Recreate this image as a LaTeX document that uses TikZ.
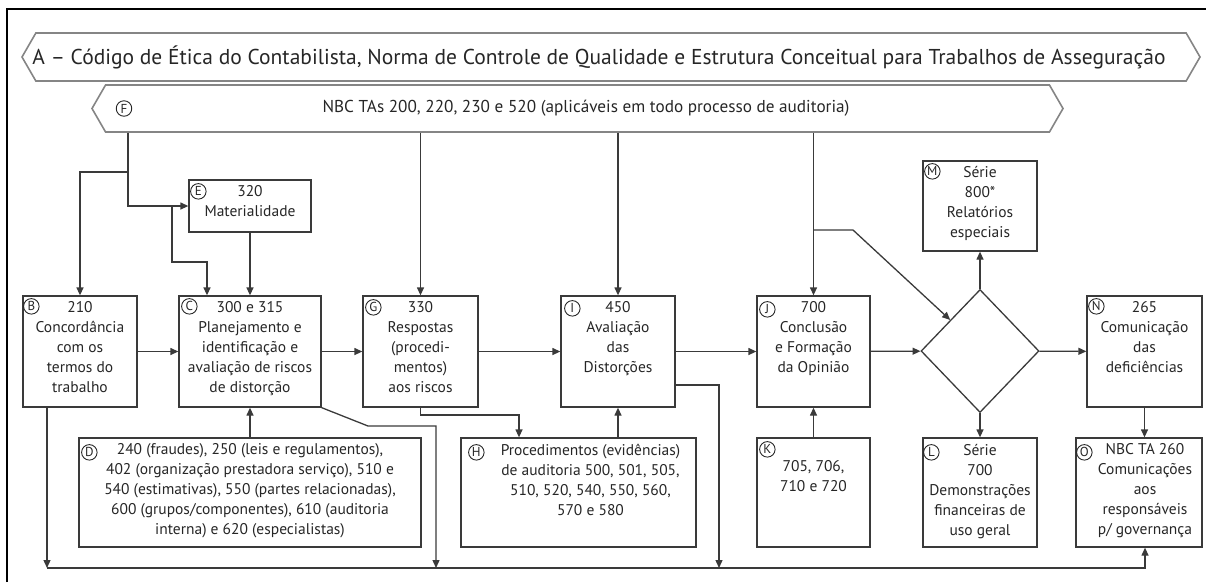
\documentclass[tikz,border=0pt]{standalone}
\usepackage{fontspec}
\setmainfont{PT Sans}
\usetikzlibrary{arrows.meta,shapes.geometric,shapes.symbols,calc,positioning}

\definecolor{lineclr}{HTML}{3A3A3A}
\definecolor{txtclr}{HTML}{262626}
\definecolor{bannerclr}{HTML}{858585}

\begin{document}
\begin{tikzpicture}[x=1pt, y=-1pt,
    box/.style={draw=lineclr, line width=1.3pt, inner sep=0pt},
    boxtext/.style={anchor=north, align=center, inner sep=0pt, text=txtclr,
      font=\fontsize{15.5}{20}\selectfont, execute at begin node=\strut},
    tag/.style={circle, draw=txtclr, line width=0.9pt, inner sep=0pt,
      minimum size=15.5pt, font=\fontsize{13}{13}\selectfont, text=txtclr},
    banner/.style={signal, signal to=west and east, signal pointer angle=120,
      draw=bannerclr, line width=1.6pt, inner sep=0pt},
    wire/.style={draw=lineclr, line width=1.3pt},
    arr/.style={wire, -{Triangle[length=8pt,width=7pt]}}]

  \useasboundingbox (0,0) rectangle (1206,582);

  % page frame
  \draw[line width=1.4pt] (7,582) -- (7,9) -- (1206,9);

  % top banners
  \node[banner, minimum width=1178, minimum height=48] (A) at (611,57) {};
  \node[text=txtclr, font=\fontsize{21.5}{24}\selectfont] (Atxt) at (599,57)
    {A -- Código de Ética do Contabilista, Norma de Controle de Qualidade e Estrutura Conceitual para Trabalhos de Asseguração};
  \node[banner, minimum width=971, minimum height=47] (F) at (577.5,108.5) {};
  \node[text=txtclr, font=\fontsize{17.2}{20}\selectfont] (Ftxt) at (586,108.5)
    {NBC TAs 200, 220, 230 e 520 (aplicáveis em todo processo de auditoria)};
  \node[tag] (F-tag) at (124,108.5) {F};

  % main row of boxes
  \node[box, minimum width=114, minimum height=111] (B) at (80,351.5) {};
  \node[box, minimum width=142, minimum height=111] (C) at (250,351.5) {};
  \node[box, minimum width=115, minimum height=111] (G) at (420.5,351.5) {};
  \node[box, minimum width=114, minimum height=111] (I) at (618,351.5) {};
  \node[box, minimum width=113, minimum height=111] (J) at (813.5,351.5) {};
  \node[draw=lineclr, line width=1.3pt, diamond, inner sep=0pt,
    minimum width=118, minimum height=123] (dia) at (980,351) {};
  \node[box, minimum width=115, minimum height=111] (N) at (1144.5,351.5) {};

  % upper boxes
  \node[box, minimum width=122, minimum height=52] (E) at (250,206) {};
  \node[box, minimum width=114, minimum height=90] (M) at (980,206) {};

  % lower boxes
  \node[box, minimum width=342, minimum height=109] (D) at (250,492.5) {};
  \node[box, minimum width=235, minimum height=109] (H) at (578.5,492.5) {};
  \node[box, minimum width=113, minimum height=109] (K) at (813.5,492.5) {};
  \node[box, minimum width=114, minimum height=109] (L) at (980,492.5) {};
  \node[box, minimum width=126, minimum height=109] (O) at (1139,492.5) {};

  % texts of the boxes
  \node[boxtext] (B-txt) at ([yshift=-6.4pt]B.north)
    {210\\Concordância\\com os\\termos do\\trabalho};
  \node[boxtext] (C-txt) at ([yshift=-6.4pt]C.north)
    {300 e 315\\Planejamento e\\identificação e\\avaliação de riscos\\de distorção};
  \node[boxtext] (G-txt) at ([yshift=-6.4pt]G.north)
    {330\\Respostas\\(procedi-\\mentos)\\aos riscos};
  \node[boxtext] (I-txt) at ([yshift=-6.4pt]I.north)
    {450\\Avaliação\\das\\Distorções};
  \node[boxtext] (J-txt) at ([yshift=-6.4pt]J.north)
    {700\\Conclusão\\e Formação\\da Opinião};
  \node[boxtext] (N-txt) at ([yshift=-6.4pt]N.north)
    {265\\Comunicação\\das\\deficiências};
  \node[boxtext] (E-txt) at ([yshift=-6.4pt]E.north)
    {320\\Materialidade};
  \node[boxtext] (M-txt) at ([yshift=-5.4pt]M.north)
    {Série\\800*\\Relatórios\\especiais};
  \node[boxtext] (D-txt) at ([yshift=-6.4pt]D.north)
    {240 (fraudes), 250 (leis e regulamentos),\\402 (organização prestadora serviço), 510 e\\540 (estimativas), 550 (partes relacionadas),\\600 (grupos/componentes), 610 (auditoria\\interna) e 620 (especialistas)};
  \node[boxtext] (H-txt) at ([xshift=12pt, yshift=-6.4pt]H.north)
    {Procedimentos (evidências)\\de auditoria 500, 501, 505,\\510, 520, 540, 550, 560,\\570 e 580};
  \node[boxtext] (K-txt) at ([yshift=-23.4pt]K.north)
    {705, 706,\\710 e 720};
  \node[boxtext] (L-txt) at ([yshift=-6.4pt]L.north)
    {Série\\700\\Demonstrações\\financeiras de\\uso geral};
  \node[boxtext] (O-txt) at ([xshift=6pt, yshift=-6.4pt]O.north)
    {NBC TA 260\\Comunicações\\aos\\responsáveis\\p/ governança};

  % circled letters
  \foreach \b/\dx/\dy in {B/9/11, C/11/11, G/11/12, I/12/13, J/11/14, N/10/11,
      E/10/12, M/10/11, D/11/15, H/16/15, K/11/12, L/9/15, O/9/15}
    \node[tag] (\b-tag) at ($(\b.north west)+(\dx,\dy)$) {\b};

  % turning points
  \coordinate (k1) at (128,172);
  \coordinate (k2) at (172,262);
  \coordinate (k3) at (853,230);
  \coordinate (k4) at (519,415);
  \coordinate (k5) at (368,426);
  \coordinate (k6) at (436,426);
  \coordinate (k7) at (719,385);
  \coordinate (bus1) at (47,568);
  \coordinate (bus2) at (1145,568);

  % from the F banner
  \draw[arr] (k1 |- F.south) -- (k1) -| (B.north);
  \draw[arr] (k1) |- (E.west);
  \draw[arr] (k2 |- E.west) -- (k2) -| ([xshift=-43pt]C.north);
  \draw[arr] (F.south -| G.north) -- (G.north);
  \draw[arr] (F.south -| I.north) -- (I.north);
  \draw[arr] (F.south -| J.north) -- (J.north);
  \draw[arr] (k3 -| J.north) -- (k3) -- (dia.north west);

  % main flow
  \draw[arr] (E) -- (C);
  \draw[arr] (B) -- (C);
  \draw[arr] (C) -- (G);
  \draw[arr] (G) -- (I);
  \draw[arr] (I) -- (J);
  \draw[arr] (J) -- (dia);
  \draw[arr] (dia) -- (N);
  \draw[arr] (dia.north) -- (M.south);
  \draw[arr] (dia.south) -- (L.north);
  \draw[arr] (N.south) -- (N.south |- O.north);

  % from the lower boxes
  \draw[arr] (D) -- (C);
  \draw[arr] (H.north -| I.south) -- (I.south);
  \draw[arr] (K) -- (J);
  \draw[arr] (G.south) |- (k4) -- (k4 |- H.north);

  % bottom line to O
  \draw[arr] (B.south -| bus1) -- (bus1);
  \draw[arr] (C.south east) -- (k5) -- (k6) -- (k6 |- bus1);
  \draw[arr] (k7 -| I.east) -- (k7) -- (k7 |- bus1);
  \draw[arr] (bus1) -- (bus2) -- (bus2 |- O.south);

\end{tikzpicture}
\end{document}
